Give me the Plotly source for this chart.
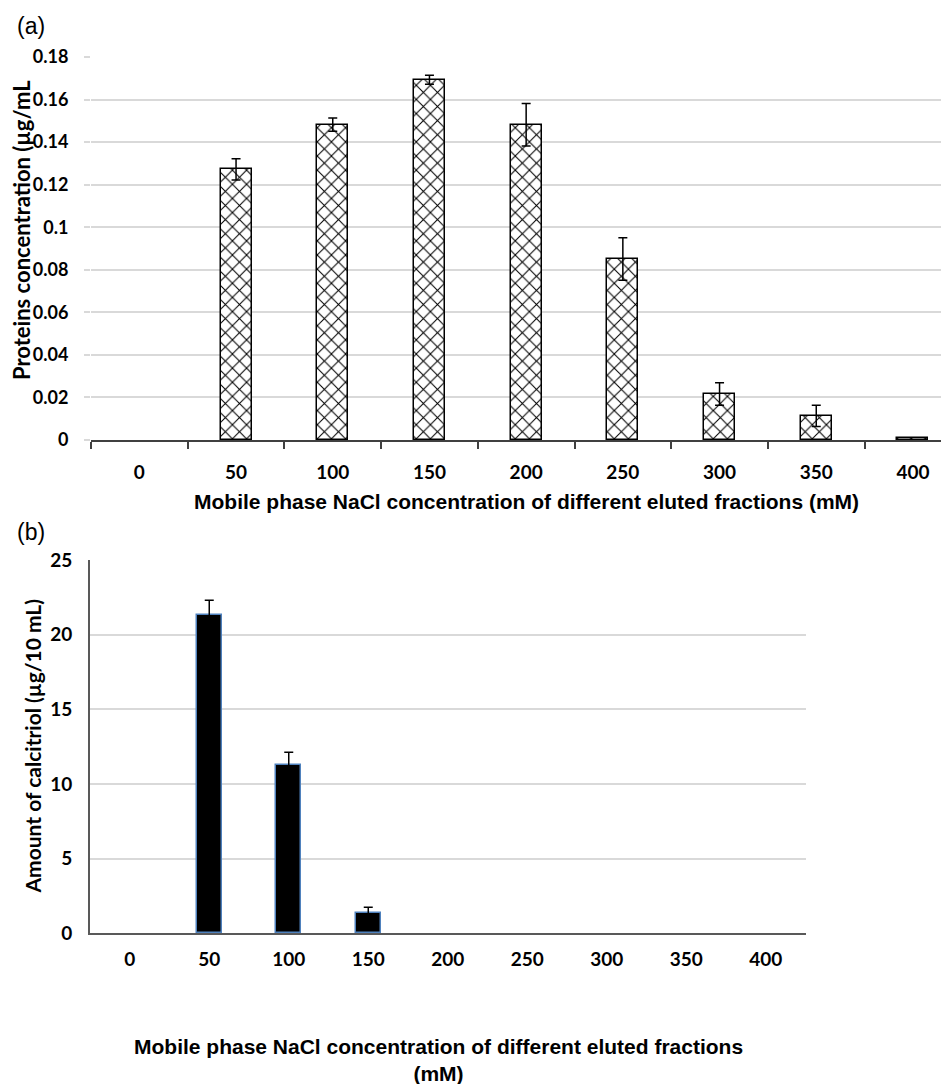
import plotly.graph_objects as go

W, H = 949, 1084
OFF = 8  # page body margin compensation

categories = ["0", "50", "100", "150", "200", "250", "300", "350", "400"]

protein = [0, 0.1272, 0.1482, 0.1693, 0.1482, 0.0851, 0.0216, 0.0113, 0.0008]
protein_err = [None, 0.0050, 0.0031, 0.0021, 0.0100, 0.0100, 0.0053, 0.0050, None]

calcitriol = [0, 21.3, 11.3, 1.38, 0, 0, 0, 0, 0]
calcitriol_err = [None, 1.0, 0.83, 0.36, None, None, None, None, None]

protein_yticks = [0, 0.02, 0.04, 0.06, 0.08, 0.1, 0.12, 0.14, 0.16, 0.18]
calcitriol_yticks = [0, 5, 10, 15, 20, 25]

x_title = "Mobile phase NaCl concentration of different eluted fractions"

def px_x(v):
    return (v - OFF) / W

def px_y(v):
    return 1 - (v - OFF) / H

def with_err(vals, errs):
    idx = [i for i, e in enumerate(errs) if e is not None]
    return [categories[i] for i in idx], [vals[i] for i in idx], [errs[i] for i in idx]

tick_font = dict(family="Lato", size=19, color="#000000", weight="bold")
ytick_font_a = dict(family="Lato", size=18, color="#000000", weight="bold")
ytick_font_b = dict(family="Lato", size=19, color="#000000", weight="bold")
title_font = dict(family="Liberation Sans", size=21, color="#000000", weight="bold")

fig = go.Figure()

fig.add_trace(go.Bar(
    x=categories, y=protein, width=0.32,
    marker=dict(color="white",
                line=dict(color="black", width=[1.5 if v > 0 else 0 for v in protein]),
                pattern=dict(shape="x", fgcolor="black", bgcolor="white", size=10, solidity=0.2)),
    xaxis="x", yaxis="y", showlegend=False,
))
ex, ey, ee = with_err(protein, protein_err)
fig.add_trace(go.Scatter(
    x=ex, y=ey, mode="markers", marker=dict(size=1, opacity=0),
    error_y=dict(type="data", array=ee, visible=True, color="black", thickness=1.5, width=4.5),
    xaxis="x", yaxis="y", showlegend=False,
))

fig.add_trace(go.Bar(
    x=categories, y=calcitriol, width=0.315,
    marker=dict(color="black",
                line=dict(color="#4f81bd", width=[1.5 if v > 0 else 0 for v in calcitriol])),
    xaxis="x2", yaxis="y2", showlegend=False,
))
ex2, ey2, ee2 = with_err(calcitriol, calcitriol_err)
fig.add_trace(go.Scatter(
    x=ex2, y=ey2, mode="markers", marker=dict(size=1, opacity=0),
    error_y=dict(type="data", array=ee2, visible=True, color="black", thickness=1.5, width=4.5),
    xaxis="x2", yaxis="y2", showlegend=False,
))

cat_w = 96.7
x_right = -0.5 + (W + OFF - 91) / cat_w

fig.update_layout(
    template="none",
    width=W, height=H,
    margin=dict(l=0, r=0, t=0, b=0, pad=0),
    paper_bgcolor="white", plot_bgcolor="white",
    bargap=0,
    xaxis=dict(
        domain=[px_x(91), 1.0], anchor="y", type="category", automargin=False,
        categoryorder="array", categoryarray=categories,
        range=[-0.5, x_right], showline=True, linecolor="#404040", linewidth=1.5,
        ticks="outside", ticklen=7, tickcolor="#404040", tickwidth=1.5, tickson="boundaries",
        showgrid=False, zeroline=False, tickfont=tick_font, ticklabelstandoff=14,
    ),
    yaxis=dict(
        domain=[px_y(440), px_y(57)], anchor="x", automargin=False,
        range=[0, 0.18], tickvals=protein_yticks, showline=False, zeroline=False,
        showgrid=True, gridcolor="#d9d9d9", gridwidth=1.5,
        ticks="outside", ticklen=6, tickcolor="#d9d9d9", tickwidth=1.5,
        tickfont=ytick_font_a, ticklabelstandoff=12,
    ),
    xaxis2=dict(
        domain=[px_x(90), px_x(805.5)], anchor="y2", type="category", automargin=False,
        categoryorder="array", categoryarray=categories,
        range=[-0.5, 8.5], showline=True, linecolor="#595959", linewidth=2,
        ticks="", showgrid=False, zeroline=False, tickfont=tick_font, ticklabelstandoff=8,
    ),
    yaxis2=dict(
        domain=[px_y(933.3), px_y(560)], anchor="x2", automargin=False,
        range=[0, 25], tickvals=calcitriol_yticks, showline=True, linecolor="#595959", linewidth=2,
        zeroline=False, showgrid=True, gridcolor="#d9d9d9", gridwidth=1.5,
        ticks="", tickfont=ytick_font_b, ticklabelstandoff=12,
    ),
    annotations=[
        dict(text="(a)", x=px_x(31), y=px_y(26), xref="paper", yref="paper", showarrow=False,
             font=dict(family="Liberation Sans", size=23, color="black"), xanchor="center", yanchor="middle"),
        dict(text="(b)", x=px_x(31), y=px_y(532), xref="paper", yref="paper", showarrow=False,
             font=dict(family="Liberation Sans", size=23, color="black"), xanchor="center", yanchor="middle"),
        dict(text=x_title + " (mM)", x=px_x(526), y=px_y(502), xref="paper", yref="paper", showarrow=False,
             font=title_font, xanchor="center", yanchor="middle"),
        dict(text=x_title + "<br>(mM)", x=px_x(438), y=px_y(1060), xref="paper", yref="paper", showarrow=False,
             font=title_font, xanchor="center", yanchor="middle", align="center"),
        dict(text="Proteins concentration (µg/mL", x=px_x(21), y=px_y(230), xref="paper", yref="paper",
             showarrow=False, textangle=-90, font=dict(family="Lato", size=22, color="black", weight="bold"),
             xanchor="center", yanchor="middle"),
        dict(text="Amount of calcitriol (µg/10 mL)", x=px_x(32), y=px_y(746.5), xref="paper", yref="paper",
             showarrow=False, textangle=-90, font=dict(family="Lato", size=21, color="black", weight="bold"),
             xanchor="center", yanchor="middle"),
    ],
)

fig.write_html("out.html")
